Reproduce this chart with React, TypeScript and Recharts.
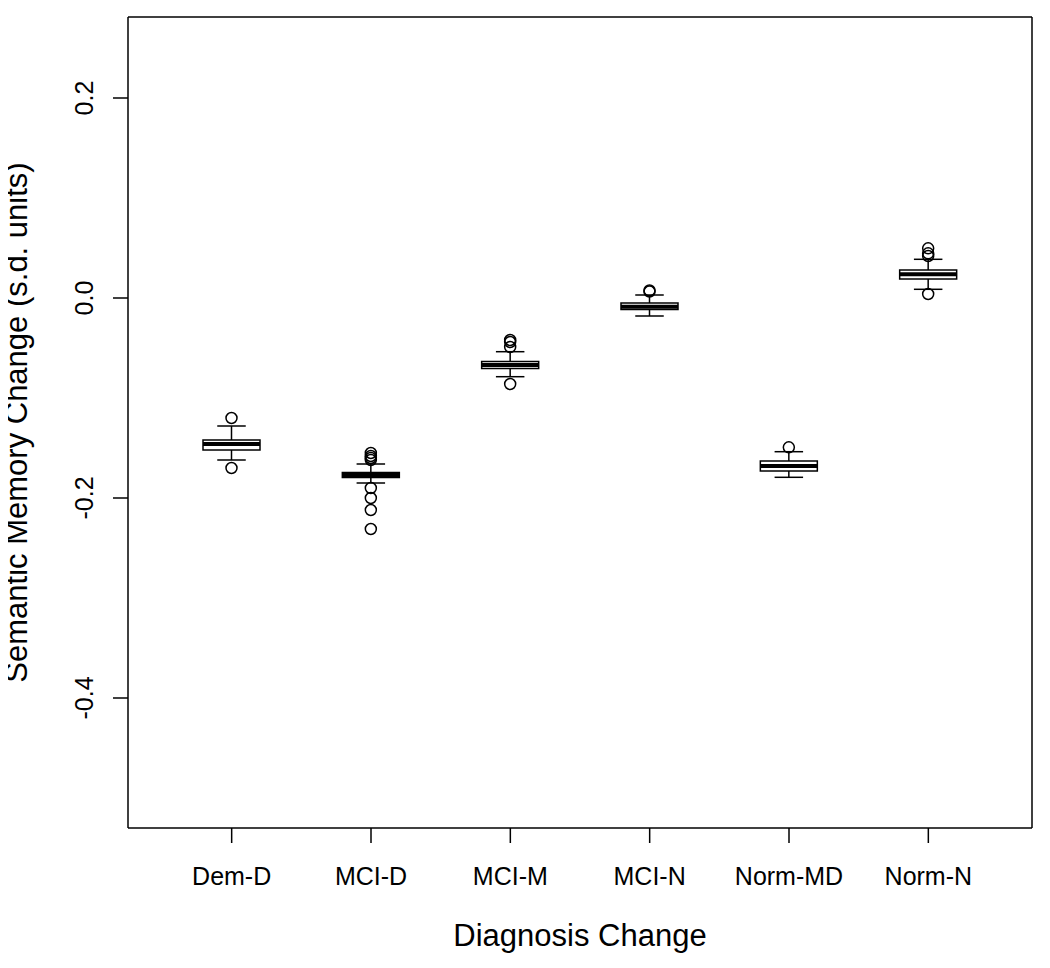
import React from "react";
import { ComposedChart, Bar, XAxis, YAxis } from "recharts";

const categories = ["Dem-D", "MCI-D", "MCI-M", "MCI-N", "Norm-MD", "Norm-N"];
const lowerWhisker = [-0.162, -0.185, -0.0787, -0.018, -0.1793, 0.0087];
const lowerQuartile = [-0.152, -0.1795, -0.0705, -0.0115, -0.173, 0.019];
const medians = [-0.146, -0.177, -0.067, -0.0088, -0.168, 0.0237];
const upperQuartile = [-0.142, -0.1745, -0.0635, -0.005, -0.163, 0.028];
const upperWhisker = [-0.128, -0.166, -0.0537, 0.003, -0.1537, 0.0387];
const outliers = [
  [-0.12, -0.17],
  [-0.155, -0.158, -0.16, -0.162, -0.19, -0.2, -0.212, -0.231],
  [-0.042, -0.044, -0.049, -0.086],
  [0.0065, 0.0075],
  [-0.1493],
  [0.0497, 0.0447, 0.042, 0.004],
];
const yTicks = [-0.4, -0.2, 0, 0.2];
const yDomain = [-0.53, 0.281];

const FONT = "'Liberation Sans', Arial, Helvetica, sans-serif";

const rows = categories.map((name, i) => ({
  name,
  range: [lowerWhisker[i], upperWhisker[i]],
  lw: lowerWhisker[i],
  q1: lowerQuartile[i],
  med: medians[i],
  q3: upperQuartile[i],
  uw: upperWhisker[i],
  out: outliers[i],
}));

const BoxShape = (props: any) => {
  const { x, y, width, height, payload } = props;
  if (x == null || y == null || !payload) return null;
  const lo = payload.lw;
  const hi = payload.uw;
  const top = Math.min(y, y + height);
  const h = Math.abs(height);
  const k = h / (hi - lo);
  const py = (v: number) => top + (hi - v) * k;
  const cx = x + width / 2;
  const capHalf = width / 4;
  const sw = 1.5;
  return (
    <g>
      <line x1={cx} x2={cx} y1={py(payload.uw)} y2={py(payload.q3)} stroke="#000" strokeWidth={sw} />
      <line x1={cx} x2={cx} y1={py(payload.q1)} y2={py(payload.lw)} stroke="#000" strokeWidth={sw} />
      <line x1={cx - capHalf} x2={cx + capHalf} y1={py(payload.uw)} y2={py(payload.uw)} stroke="#000" strokeWidth={sw} />
      <line x1={cx - capHalf} x2={cx + capHalf} y1={py(payload.lw)} y2={py(payload.lw)} stroke="#000" strokeWidth={sw} />
      <rect
        x={x}
        y={py(payload.q3)}
        width={width}
        height={py(payload.q1) - py(payload.q3)}
        fill="#fff"
        stroke="#000"
        strokeWidth={sw}
      />
      <line x1={x} x2={x + width} y1={py(payload.med)} y2={py(payload.med)} stroke="#000" strokeWidth={4} />
      {payload.out.map((v: number, j: number) => (
        <circle key={j} cx={cx} cy={py(v)} r={5.5} fill="none" stroke="#000" strokeWidth={1.5} />
      ))}
    </g>
  );
};

const XTick = (props: any) => {
  const { x, y, payload } = props;
  return (
    <text x={x} y={y + 42} textAnchor="middle" fontSize={25} fontFamily={FONT} fill="#000">
      {payload.value}
    </text>
  );
};

const YTick = (props: any) => {
  const { x, y, payload } = props;
  return (
    <text
      x={x}
      y={y}
      transform={`rotate(-90 ${x} ${y})`}
      textAnchor="middle"
      fontSize={25}
      fontFamily={FONT}
      fill="#000"
    >
      {Number(payload.value).toFixed(1)}
    </text>
  );
};

const XTitle = (props: any) => {
  const vb = props.viewBox || { x: 128, y: 828, width: 904, height: 140 };
  const cx = vb.x + vb.width / 2;
  return (
    <text x={cx} y={vb.y + 118} textAnchor="middle" fontSize={31} fontFamily={FONT} fill="#000">
      Diagnosis Change
    </text>
  );
};

const YTitle = (props: any) => {
  const vb = props.viewBox || { x: 0, y: 17, width: 128, height: 811 };
  const tx = 27;
  const ty = vb.y + vb.height / 2;
  return (
    <text
      x={tx}
      y={ty}
      transform={`rotate(-90 ${tx} ${ty})`}
      textAnchor="middle"
      fontSize={31}
      fontFamily={FONT}
      fill="#000"
    >
      Semantic Memory Change (s.d. units)
    </text>
  );
};

export default function App() {
  return (
    <div style={{ margin: -8, width: 1050, height: 968, background: "#fff" }}>
      <ComposedChart
        width={1050}
        height={968}
        data={rows}
        margin={{ top: 16, right: 17, bottom: 0, left: 0 }}
        style={{ fontFamily: FONT }}
      >
        <XAxis
          dataKey="name"
          type="category"
          height={140}
          padding={{ left: 34, right: 34 }}
          interval={0}
          tickSize={15}
          tickMargin={0}
          tick={<XTick />}
          tickLine={{ stroke: "#000", strokeWidth: 1.5 }}
          axisLine={{ stroke: "#000", strokeWidth: 1.5 }}
          label={{ content: (p: any) => <XTitle {...p} /> }}
        />
        <XAxis
          xAxisId="top"
          dataKey="name"
          orientation="top"
          height={1}
          padding={{ left: 34, right: 34 }}
          tick={false}
          tickLine={false}
          axisLine={{ stroke: "#000", strokeWidth: 1.5 }}
        />
        <YAxis
          type="number"
          domain={yDomain}
          ticks={yTicks}
          allowDataOverflow
          width={128}
          tickSize={15}
          tickMargin={20}
          tick={<YTick />}
          tickLine={{ stroke: "#000", strokeWidth: 1.5 }}
          axisLine={{ stroke: "#000", strokeWidth: 1.5 }}
          label={{ content: (p: any) => <YTitle {...p} /> }}
        />
        <YAxis
          yAxisId="right"
          orientation="right"
          width={1}
          tick={false}
          tickLine={false}
          axisLine={{ stroke: "#000", strokeWidth: 1.5 }}
        />
        <Bar
          dataKey="range"
          barSize={57}
          isAnimationActive={false}
          shape={(p: any) => <BoxShape {...p} />}
        />
      </ComposedChart>
    </div>
  );
}
